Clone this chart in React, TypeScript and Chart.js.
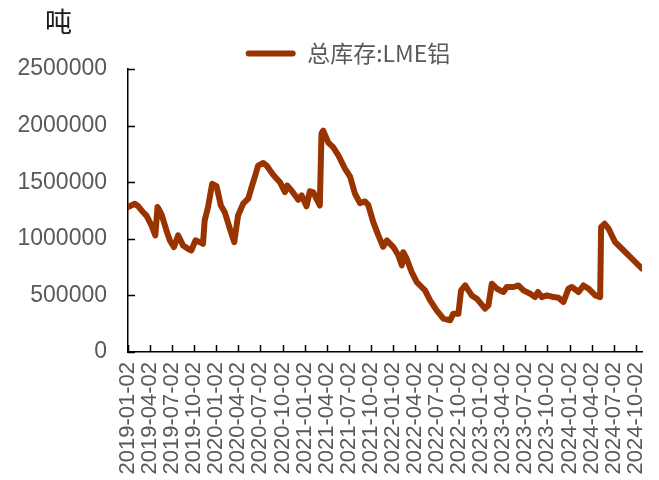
import React, { useEffect, useRef } from 'react';
import { Chart, registerables } from 'chart.js';

Chart.register(...registerables);

const seriesName = '总库存:LME铝';
const unitLabel = '吨';
const lineColor = '#993300';

const dates = [
  '2019-01-02', '2019-01-30', '2019-02-12', '2019-03-05', '2019-03-19', '2019-04-09', '2019-04-25', '2019-05-04',
  '2019-05-20', '2019-06-10', '2019-06-24', '2019-07-11', '2019-07-28', '2019-08-18', '2019-09-07', '2019-09-21',
  '2019-10-08', '2019-10-26', '2019-11-08', '2019-11-15', '2019-11-29', '2019-12-16',
  '2020-01-03', '2020-01-21', '2020-02-06', '2020-02-27', '2020-03-16', '2020-04-01', '2020-04-22', '2020-05-13',
  '2020-05-27', '2020-06-09', '2020-06-23', '2020-07-14', '2020-07-28', '2020-08-24', '2020-09-21', '2020-10-12',
  '2020-10-21', '2020-11-08', '2020-12-06', '2020-12-20',
  '2021-01-09', '2021-01-23', '2021-02-06', '2021-03-05', '2021-03-12', '2021-03-19', '2021-04-09', '2021-04-29',
  '2021-05-20', '2021-06-17', '2021-07-08', '2021-07-28', '2021-08-18', '2021-09-08', '2021-09-21', '2021-10-12',
  '2021-11-02', '2021-11-22', '2021-12-07',
  '2022-01-03', '2022-01-24', '2022-02-07', '2022-02-13', '2022-02-27', '2022-03-20', '2022-04-10', '2022-04-30',
  '2022-05-14', '2022-06-04', '2022-07-01', '2022-07-29', '2022-08-26', '2022-09-08', '2022-09-29', '2022-10-10',
  '2022-10-27', '2022-11-23', '2022-12-14',
  '2023-01-17', '2023-01-31', '2023-02-14', '2023-03-07', '2023-04-03', '2023-04-17', '2023-05-15', '2023-06-04',
  '2023-06-25', '2023-07-23', '2023-08-12', '2023-08-24', '2023-09-09', '2023-09-30', '2023-10-27', '2023-11-17',
  '2023-12-07', '2023-12-28',
  '2024-01-11', '2024-02-08', '2024-02-28', '2024-03-20', '2024-04-17', '2024-05-07', '2024-05-11', '2024-05-25',
  '2024-06-11', '2024-07-08', '2024-08-05', '2024-09-09', '2024-10-27',
];

const stock = [
  1280000, 1310000, 1290000, 1235000, 1206000, 1118000, 1030000, 1280000,
  1220000, 1074000, 986000, 927000, 1030000, 940000, 912000, 897000,
  986000, 970000, 956000, 1162000, 1280000, 1486000,
  1465000, 1294000, 1235000, 1089000, 970000, 1206000, 1310000, 1354000,
  1456000, 1544000, 1647000, 1670000, 1647000, 1566000, 1500000, 1412000,
  1471000, 1427000, 1345000, 1383000,
  1287000, 1420000, 1410000, 1294000, 1930000, 1956000, 1850000, 1810000,
  1740000, 1620000, 1550000, 1400000, 1315000, 1330000, 1300000, 1147000,
  1030000, 930000, 986000,
  927000, 853000, 765000, 882000, 824000, 706000, 618000, 574000,
  544000, 456000, 368000, 295000, 280000, 339000, 339000, 544000,
  588000, 500000, 471000,
  383000, 412000, 603000, 559000, 530000, 574000, 574000, 588000,
  544000, 515000, 485000, 530000, 485000, 500000, 485000, 480000,
  441000, 559000,
  574000, 530000, 588000, 559000, 500000, 485000, 1103000, 1133000,
  1089000, 970000, 912000, 838000, 736000,
];

const tickLabels = [
  '2019-01-02', '2019-04-02', '2019-07-02', '2019-10-02',
  '2020-01-02', '2020-04-02', '2020-07-02', '2020-10-02',
  '2021-01-02', '2021-04-02', '2021-07-02', '2021-10-02',
  '2022-01-02', '2022-04-02', '2022-07-02', '2022-10-02',
  '2023-01-02', '2023-04-02', '2023-07-02', '2023-10-02',
  '2024-01-02', '2024-04-02', '2024-07-02', '2024-10-02',
];

const yMin = 0;
const yMax = 2500000;
const yStep = 500000;

const BASE = Date.UTC(2019, 0, 2);
const toDay = (s: string) => {
  const [y, m, d] = s.split('-').map(Number);
  return (Date.UTC(y, m - 1, d) - BASE) / 86400000;
};

export default function App() {
  const ref = useRef<HTMLCanvasElement>(null);

  useEffect(() => {
    const canvas = ref.current;
    if (!canvas) return;
    const points = dates.map((d, i) => ({ x: toDay(d), y: stock[i] }));
    const tickDays = tickLabels.map(toDay);
    const lastDay = toDay(dates[dates.length - 1]);

    const insideTicks = {
      id: 'insideTicks',
      afterLayout(chart: any) {
        const lg = chart.legend;
        if (lg) {
          const dx = 22;
          const dy = 6;
          lg.left += dx;
          lg.right += dx;
          lg.top += dy;
          lg.bottom += dy;
        }
      },
      afterDraw(chart: any) {
        const { ctx, chartArea } = chart;
        const xs = chart.scales.x;
        const ys = chart.scales.y;
        ctx.save();
        ctx.strokeStyle = '#000';
        ctx.lineWidth = 1.5;
        ctx.beginPath();
        ys.ticks.forEach((t: any) => {
          const y = Math.round(ys.getPixelForValue(t.value)) + 0.5;
          ctx.moveTo(chartArea.left, y);
          ctx.lineTo(chartArea.left + 7, y);
        });
        xs.ticks.forEach((t: any) => {
          const x = Math.round(xs.getPixelForValue(t.value)) + 0.5;
          ctx.moveTo(x, chartArea.bottom);
          ctx.lineTo(x, chartArea.bottom - 7);
        });
        ctx.stroke();
        ctx.font = '27px "Noto Sans CJK SC", sans-serif';
        ctx.fillStyle = '#1a1a1a';
        ctx.textBaseline = 'middle';
        ctx.textAlign = 'left';
        ctx.fillText(unitLabel, 45, 22);
        ctx.restore();
      },
    };

    const chart = new Chart(canvas, {
      type: 'line',
      data: {
        datasets: [
          {
            label: seriesName,
            data: points,
            borderColor: lineColor,
            backgroundColor: lineColor,
            borderWidth: 6,
            pointRadius: 0,
            tension: 0,
            borderCapStyle: 'round',
            borderJoinStyle: 'round',
            fill: false,
          },
        ],
      },
      options: {
        animation: false,
        responsive: false,
        maintainAspectRatio: false,
        layout: { padding: { top: 26, left: 10, right: 17, bottom: 0 } },
        plugins: {
          legend: {
            display: true,
            position: 'top',
            labels: {
              boxWidth: 50,
              boxHeight: 6,
              padding: 10,
              color: '#595959',
              useBorderRadius: true,
              borderRadius: 3,
              font: { family: '"Noto Sans CJK SC", sans-serif', size: 23 },
              generateLabels: () => [
                {
                  text: seriesName,
                  fillStyle: lineColor,
                  strokeStyle: lineColor,
                  lineWidth: 0,
                  hidden: false,
                  datasetIndex: 0,
                  borderRadius: 3,
                  fontColor: '#595959',
                },
              ],
            },
          },
          tooltip: { enabled: false },
        },
        scales: {
          x: {
            type: 'linear',
            min: 0,
            max: lastDay,
            afterBuildTicks: (s: any) => {
              s.ticks = tickDays.map((v) => ({ value: v }));
            },
            afterFit: (s: any) => {
              s.height = 128;
              s.paddingRight = 0;
              s.paddingLeft = 0;
            },
            grid: { display: true, drawOnChartArea: false, drawTicks: false },
            border: { display: true, color: '#000', width: 1.5 },
            ticks: {
              autoSkip: false,
              maxRotation: 90,
              minRotation: 90,
              padding: 10,
              color: '#595959',
              font: { family: '"Liberation Sans", Arial, sans-serif', size: 22 },
              callback: (_v: any, i: number) => tickLabels[i],
            },
          },
          y: {
            min: yMin,
            max: yMax,
            afterFit: (s: any) => {
              s.width = 118;
            },
            grid: { display: true, drawOnChartArea: false, drawTicks: false },
            border: { display: true, color: '#000', width: 1.5 },
            ticks: {
              stepSize: yStep,
              padding: 21,
              color: '#595959',
              font: { family: '"Liberation Sans", Arial, sans-serif', size: 23 },
              callback: (v: any) => String(v),
            },
          },
        },
      },
      plugins: [insideTicks],
    } as any);

    return () => chart.destroy();
  }, []);

  return (
    <div style={{ position: 'absolute', left: 0, top: 0, width: 659, height: 480, background: '#fff' }}>
      <canvas ref={ref} width={659} height={480} style={{ display: 'block', width: 659, height: 480 }} />
    </div>
  );
}
